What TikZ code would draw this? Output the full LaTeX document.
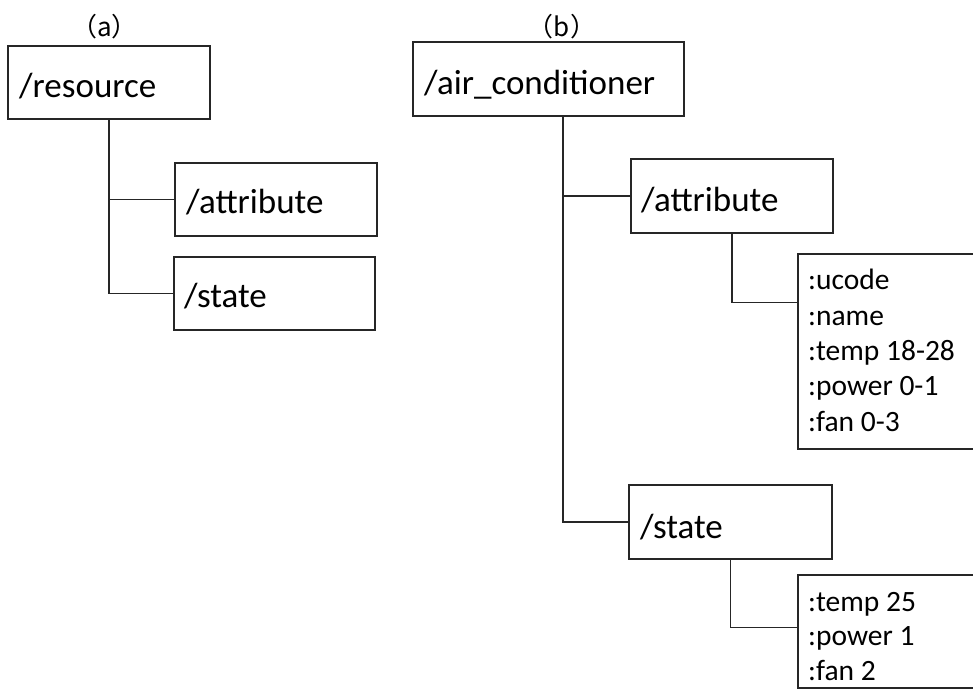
\documentclass[tikz,border=0pt]{standalone}
\usepackage{fontspec}
\setmainfont{Carlito}
\newfontfamily\cjkfont{Noto Sans CJK JP}
\begin{document}
\begin{tikzpicture}[x=1pt,y=-1pt,
  box/.style={draw=black!85, line width=1.5pt, rectangle, inner sep=0pt},
  link/.style={draw=black!85, line width=1.5pt},
  boxtext/.style={inner sep=0pt, anchor=base west, text=black, font=\fontsize{35}{42}\selectfont},
  itemtext/.style={inner sep=0pt, anchor=base west, text=black, font=\fontsize{29.5}{35}\selectfont},
  tagtext/.style={inner sep=0pt, anchor=base, font=\cjkfont\fontsize{26}{30}\selectfont}]
\clip (0,0) rectangle (973,688);

% (a) generic resource tree
\node[tagtext] (taga) at (104.5,36) {（a）};
\node[box, minimum width=202pt, minimum height=73pt] (res)  at (109,82.5)  {};
\node[box, minimum width=202pt, minimum height=73pt] (atta) at (276,199.5) {};
\node[box, minimum width=201pt, minimum height=73pt] (sta)  at (274.5,293.5) {};
\node[boxtext] (resT)  at (19,97)  {/resource};
\node[boxtext] (attaT) at (186,213) {/attribute};
\node[boxtext] (staT)  at (184,307) {/state};
\draw[link] (res.south) |- (atta.west);
\draw[link] (res.south) |- (sta.west);

% (b) air conditioner tree
\node[tagtext] (tagb) at (562,36) {（b）};
\node[box, minimum width=271pt, minimum height=74pt] (air)  at (548.5,79) {};
\node[box, minimum width=202pt, minimum height=74pt] (attb) at (732,196) {};
\node[box, minimum width=203pt, minimum height=74pt] (stb)  at (730.5,522) {};
\node[box, minimum width=202pt, minimum height=195pt] (attd) at (899,351.5) {};
\node[box, minimum width=202pt, minimum height=113pt] (std)  at (899,631.5) {};
\node[boxtext] (airT)  at (424,94)  {/air\_conditioner};
\node[boxtext] (attbT) at (641,211) {/attribute};
\node[boxtext] (stbT)  at (640,538) {/state};

\foreach \t/\yy [count=\i] in {:ucode/289, :name/325, :temp 18-28/360, :power 0-1/395, :fan 0-3/431}
  \node[itemtext] (attd-\i) at (808,\yy) {\t};
\foreach \t/\yy [count=\i] in {:temp 25/611, :power 1/645, :fan 2/680}
  \node[itemtext] (std-\i) at (808,\yy) {\t};

\draw[link] ([xshift=14.5pt]air.south) |- (attb.west);
\draw[link] ([xshift=14.5pt]air.south) |- (stb.west);
\draw[link] (attb.south) |- ([yshift=-49pt]attd.north west);
\draw[link] (stb.south) |- ([yshift=-53pt]std.north west);
\end{tikzpicture}
\end{document}
